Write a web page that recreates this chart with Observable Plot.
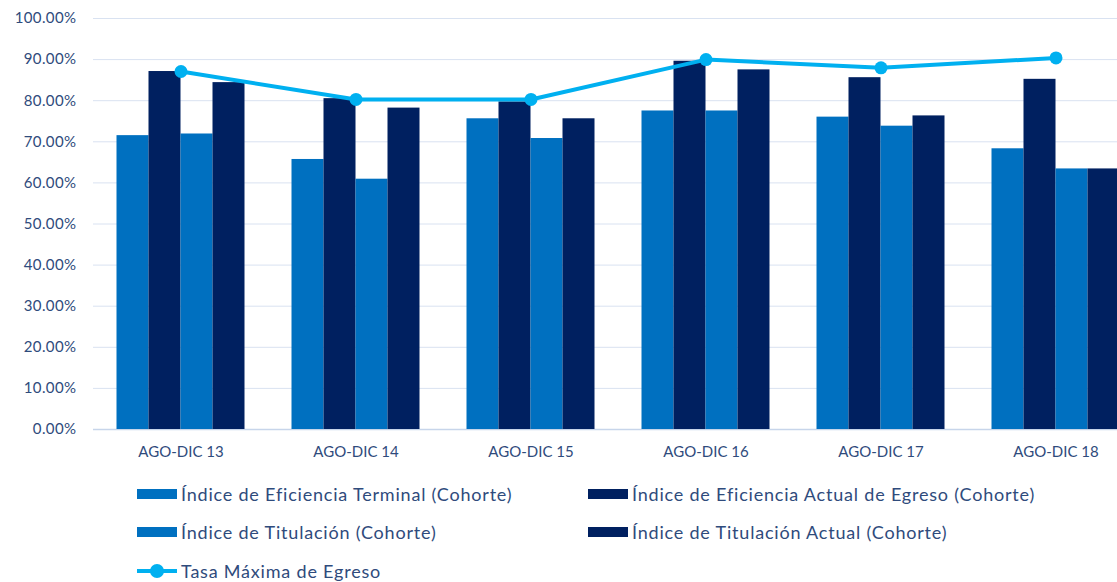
<!DOCTYPE html>
<html>
<head>
<meta charset="utf-8">
<script src="https://cdn.jsdelivr.net/npm/d3@7"></script>
<script src="https://cdn.jsdelivr.net/npm/@observablehq/plot@0.6"></script>
<style>
  html, body { margin: 0; padding: 0; background: #fff; overflow: hidden; }
  body { width: 1117px; height: 582px; position: relative; font-family: Lato, "Open Sans", sans-serif; }
  #chart { position: absolute; left: 0; top: 0; }
  .legend { position: absolute; left: 0; top: 0; width: 1117px; color: #2F4B7C; font-size: 18px; letter-spacing: 0.8px; font-family: Lato, sans-serif; }
  .item { position: absolute; display: flex; align-items: center; height: 24px; white-space: nowrap; }
  .sw { width: 40px; height: 10px; margin-right: 4px; }
  .lsw { width: 40px; height: 14px; margin-right: 4px; position: relative; }
  .lsw::before { content: ""; position: absolute; left: 0; right: 0; top: 5px; height: 4px; background: #00B0F0; }
  .lsw::after { content: ""; position: absolute; left: 13px; top: 0; width: 14px; height: 14px; border-radius: 50%; background: #00B0F0; }
  #chart svg g[aria-label="y-axis tick label"] text { letter-spacing: 0.4px; }
</style>
</head>
<body>
<div id="chart"></div>
<div class="legend" id="legend"></div>
<script>
const categories = ["AGO-DIC 13", "AGO-DIC 14", "AGO-DIC 15", "AGO-DIC 16", "AGO-DIC 17", "AGO-DIC 18"];
const seriesNames = [
  "Índice de Eficiencia Terminal (Cohorte)",
  "Índice de Eficiencia Actual de Egreso (Cohorte)",
  "Índice de Titulación (Cohorte)",
  "Índice de Titulación Actual (Cohorte)"
];
const eficienciaTerminal = [0.715, 0.657, 0.756, 0.775, 0.760, 0.683];
const eficienciaActual   = [0.871, 0.805, 0.797, 0.896, 0.856, 0.852];
const titulacion         = [0.719, 0.609, 0.708, 0.775, 0.738, 0.634];
const titulacionActual   = [0.844, 0.782, 0.756, 0.875, 0.763, 0.634];
const lineName = "Tasa Máxima de Egreso";
const tasaMaxima         = [0.871, 0.803, 0.803, 0.900, 0.880, 0.904];
const yTicks = [0, 0.1, 0.2, 0.3, 0.4, 0.5, 0.6, 0.7, 0.8, 0.9, 1.0];

const seriesValues = [eficienciaTerminal, eficienciaActual, titulacion, titulacionActual];
const seriesColors = ["#0070C0", "#002060", "#0070C0", "#002060"];
const lineColor = "#00B0F0";
const textColor = "#2F4B7C";

const bandStep = 175, barW = 32, groupPad = (bandStep - 4 * barW) / 2;

const marks = [
  Plot.ruleY(yTicks.slice(1), {stroke: "#D9E2F1", strokeWidth: 1}),
  Plot.ruleY([0], {stroke: "#C7D5EA", strokeWidth: 1.5})
];
seriesValues.forEach((vals, i) => {
  const data = categories.map((c, j) => ({cat: c, v: vals[j], s: seriesNames[i]}));
  marks.push(Plot.barY(data, {
    x: "cat", y: "v", fill: seriesColors[i],
    insetLeft: groupPad + barW * i,
    insetRight: bandStep - groupPad - barW * (i + 1),
    style: "filter: drop-shadow(1px 1px 1.5px rgba(0,0,0,0.28))"
  }));
});
const lineData = categories.map((c, j) => ({cat: c, v: tasaMaxima[j]}));
marks.push(Plot.line(lineData, {x: "cat", y: "v", stroke: lineColor, strokeWidth: 4, style: "filter: drop-shadow(1px 1px 1.5px rgba(0,0,0,0.25))"}));
marks.push(Plot.dot(lineData, {x: "cat", y: "v", r: 6.5, fill: lineColor}));
marks.push(Plot.axisY({ticks: yTicks, tickFormat: d3.format(".2%"), tickSize: 0, tickPadding: 17, fontSize: 15, color: textColor}));
marks.push(Plot.axisX({tickSize: 0, tickPadding: 17, fontSize: 15, color: textColor}));

const chart = Plot.plot({
  width: 1117,
  height: 470,
  marginTop: 18,
  marginBottom: 41,
  marginLeft: 93,
  marginRight: 0,
  style: {fontFamily: "Lato, sans-serif", color: textColor, background: "transparent"},
  x: {domain: categories, range: [93, 93 + bandStep * categories.length], padding: 0, label: null},
  y: {domain: [0, 1], label: null},
  marks
});
document.getElementById("chart").appendChild(chart);

// Legend
const legend = document.getElementById("legend");
const pos = [[137, 482], [588, 482], [137, 520], [588, 520]];
seriesNames.forEach((n, i) => {
  const d = document.createElement("div");
  d.className = "item";
  d.style.left = pos[i][0] + "px";
  d.style.top = pos[i][1] + "px";
  d.innerHTML = `<span class="sw" style="background:${seriesColors[i]}"></span><span>${n}</span>`;
  legend.appendChild(d);
});
const li = document.createElement("div");
li.className = "item";
li.style.left = "137px";
li.style.top = "559px";
li.innerHTML = `<span class="lsw"></span><span>${lineName}</span>`;
legend.appendChild(li);
</script>
</body>
</html>
